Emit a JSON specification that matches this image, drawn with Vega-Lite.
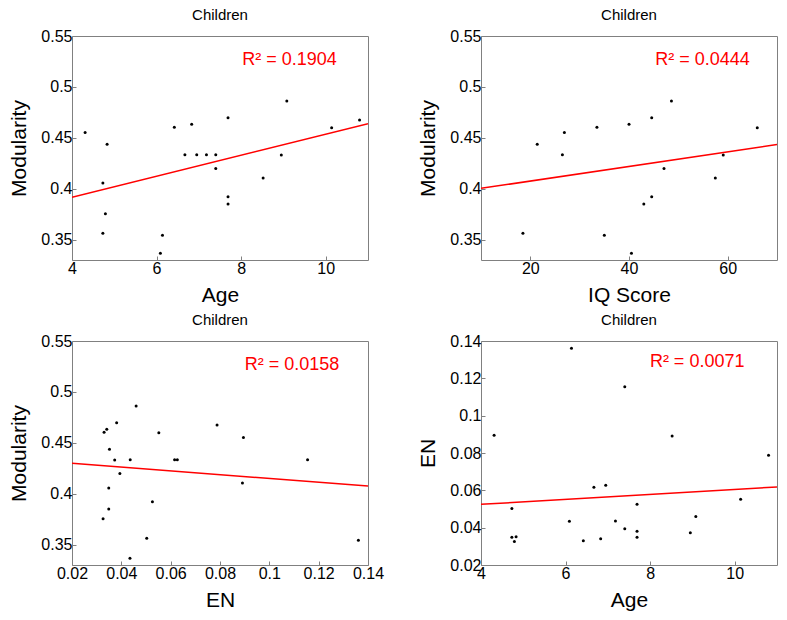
{
  "$schema": "https://vega.github.io/schema/vega-lite/v6.json",
  "autosize": {"type": "none"},
  "padding": {"left": 72, "top": 36, "right": 715, "bottom": 584},
  "background": "white",
  "datasets": {
    "kids": [
      {"age": 4.31, "iq": 26.9, "en": 0.0895, "mod": 0.4552},
      {"age": 4.83, "iq": 21.4, "en": 0.0352, "mod": 0.4436},
      {"age": 4.73, "iq": null, "en": 0.0349, "mod": 0.4057},
      {"age": 4.79, "iq": null, "en": 0.0326, "mod": 0.3754},
      {"age": 4.73, "iq": 18.5, "en": 0.0503, "mod": 0.3562},
      {"age": 6.14, "iq": 35.0, "en": 0.1361, "mod": 0.3542},
      {"age": 6.09, "iq": 40.5, "en": 0.0435, "mod": 0.3367},
      {"age": 6.42, "iq": 33.5, "en": 0.033, "mod": 0.4604},
      {"age": 6.83, "iq": 40.0, "en": 0.0341, "mod": 0.4633},
      {"age": 6.67, "iq": 26.5, "en": 0.0616, "mod": 0.4333},
      {"age": 6.95, "iq": null, "en": 0.0627, "mod": 0.4333},
      {"age": 7.18, "iq": null, "en": 0.0436, "mod": 0.4333},
      {"age": 7.4, "iq": null, "en": 0.1155, "mod": 0.4333},
      {"age": 7.4, "iq": 47.1, "en": 0.0394, "mod": 0.4199},
      {"age": 7.69, "iq": 44.6, "en": 0.0381, "mod": 0.4696},
      {"age": 7.69, "iq": 44.6, "en": 0.0526, "mod": 0.3922},
      {"age": 7.69, "iq": 43.0, "en": 0.0349, "mod": 0.3849},
      {"age": 8.52, "iq": 57.5, "en": 0.0891, "mod": 0.4105},
      {"age": 8.95, "iq": 59.1, "en": 0.0373, "mod": 0.4331},
      {"age": 9.08, "iq": 48.6, "en": 0.046, "mod": 0.4861},
      {"age": 10.14, "iq": 66.0, "en": 0.0552, "mod": 0.4598},
      {"age": 10.8, "iq": null, "en": 0.0788, "mod": 0.4675}
    ]
  },
  "columns": 2,
  "spacing": {"row": 81, "column": 113},
  "bounds": "flush",
  "concat": [
    {
      "title": "Children",
      "width": 296, "height": 224,
      "layer": [
        {
          "data": {"name": "kids"},
          "mark": {"type": "point", "filled": true, "color": "black", "size": 9, "opacity": 1},
          "encoding": {
            "x": {"field": "age", "type": "quantitative", "scale": {"domain": [4, 11], "nice": false, "zero": false}, "axis": {"values": [4, 6, 8, 10], "tickCount": 12, "title": "Age", "labelOverlap": false, "format": "~f"}},
            "y": {"field": "mod", "type": "quantitative", "scale": {"domain": [0.33, 0.55], "nice": false, "zero": false}, "axis": {"values": [0.35, 0.4, 0.45, 0.5, 0.55], "tickCount": 12, "title": "Modularity", "labelOverlap": false, "format": "~f"}}
          }
        },
        {
          "data": {"name": "kids"},
          "transform": [{"regression": "mod", "on": "age", "extent": [4, 11]}],
          "mark": {"type": "line", "color": "red", "strokeWidth": 1.5, "clip": true},
          "encoding": {"x": {"field": "age", "type": "quantitative"}, "y": {"field": "mod", "type": "quantitative"}}
        },
        {
          "data": {"values": [{"t": "R² = 0.1904"}]},
          "mark": {"type": "text", "color": "red", "fontSize": 18, "align": "right", "baseline": "alphabetic"},
          "encoding": {"x": {"datum": 10.26, "type": "quantitative"}, "y": {"datum": 0.5213, "type": "quantitative"}, "text": {"field": "t"}}
        }
      ]
    },
    {
      "title": "Children",
      "width": 296, "height": 224,
      "layer": [
        {
          "data": {"name": "kids"},
          "transform": [{"filter": "datum.iq != null"}],
          "mark": {"type": "point", "filled": true, "color": "black", "size": 9, "opacity": 1},
          "encoding": {
            "x": {"field": "iq", "type": "quantitative", "scale": {"domain": [10, 70], "nice": false, "zero": false}, "axis": {"values": [20, 40, 60], "tickCount": 12, "title": "IQ Score", "labelOverlap": false, "format": "~f"}},
            "y": {"field": "mod", "type": "quantitative", "scale": {"domain": [0.33, 0.55], "nice": false, "zero": false}, "axis": {"values": [0.35, 0.4, 0.45, 0.5, 0.55], "tickCount": 12, "title": "Modularity", "labelOverlap": false, "format": "~f"}}
          }
        },
        {
          "data": {"name": "kids"},
          "transform": [{"filter": "datum.iq != null"}, {"regression": "mod", "on": "iq", "extent": [10, 70]}],
          "mark": {"type": "line", "color": "red", "strokeWidth": 1.5, "clip": true},
          "encoding": {"x": {"field": "iq", "type": "quantitative"}, "y": {"field": "mod", "type": "quantitative"}}
        },
        {
          "data": {"values": [{"t": "R² = 0.0444"}]},
          "mark": {"type": "text", "color": "red", "fontSize": 18, "align": "right", "baseline": "alphabetic"},
          "encoding": {"x": {"datum": 64.5, "type": "quantitative"}, "y": {"datum": 0.5213, "type": "quantitative"}, "text": {"field": "t"}}
        }
      ]
    },
    {
      "title": "Children",
      "width": 296, "height": 224,
      "layer": [
        {
          "data": {"name": "kids"},
          "mark": {"type": "point", "filled": true, "color": "black", "size": 9, "opacity": 1},
          "encoding": {
            "x": {"field": "en", "type": "quantitative", "scale": {"domain": [0.02, 0.14], "nice": false, "zero": false}, "axis": {"values": [0.02, 0.04, 0.06, 0.08, 0.1, 0.12, 0.14], "tickCount": 12, "title": "EN", "labelOverlap": false, "format": "~f"}},
            "y": {"field": "mod", "type": "quantitative", "scale": {"domain": [0.33, 0.55], "nice": false, "zero": false}, "axis": {"values": [0.35, 0.4, 0.45, 0.5, 0.55], "tickCount": 12, "title": "Modularity", "labelOverlap": false, "format": "~f"}}
          }
        },
        {
          "data": {"name": "kids"},
          "transform": [{"regression": "mod", "on": "en", "extent": [0.02, 0.14]}],
          "mark": {"type": "line", "color": "red", "strokeWidth": 1.5, "clip": true},
          "encoding": {"x": {"field": "en", "type": "quantitative"}, "y": {"field": "mod", "type": "quantitative"}}
        },
        {
          "data": {"values": [{"t": "R² = 0.0158"}]},
          "mark": {"type": "text", "color": "red", "fontSize": 18, "align": "right", "baseline": "alphabetic"},
          "encoding": {"x": {"datum": 0.1284, "type": "quantitative"}, "y": {"datum": 0.5213, "type": "quantitative"}, "text": {"field": "t"}}
        }
      ]
    },
    {
      "title": "Children",
      "width": 296, "height": 224,
      "layer": [
        {
          "data": {"name": "kids"},
          "mark": {"type": "point", "filled": true, "color": "black", "size": 9, "opacity": 1},
          "encoding": {
            "x": {"field": "age", "type": "quantitative", "scale": {"domain": [4, 11], "nice": false, "zero": false}, "axis": {"values": [4, 6, 8, 10], "tickCount": 12, "title": "Age", "labelOverlap": false, "format": "~f"}},
            "y": {"field": "en", "type": "quantitative", "scale": {"domain": [0.02, 0.14], "nice": false, "zero": false}, "axis": {"values": [0.02, 0.04, 0.06, 0.08, 0.1, 0.12, 0.14], "tickCount": 12, "title": "EN", "labelOverlap": false, "format": "~f"}}
          }
        },
        {
          "data": {"name": "kids"},
          "transform": [{"regression": "en", "on": "age", "extent": [4, 11]}],
          "mark": {"type": "line", "color": "red", "strokeWidth": 1.5, "clip": true},
          "encoding": {"x": {"field": "age", "type": "quantitative"}, "y": {"field": "en", "type": "quantitative"}}
        },
        {
          "data": {"values": [{"t": "R² = 0.0071"}]},
          "mark": {"type": "text", "color": "red", "fontSize": 18, "align": "right", "baseline": "alphabetic"},
          "encoding": {"x": {"datum": 10.23, "type": "quantitative"}, "y": {"datum": 0.1263, "type": "quantitative"}, "text": {"field": "t"}}
        }
      ]
    }
  ],
  "config": {
    "font": "Liberation Sans",
    "view": {"stroke": "#808080", "strokeWidth": 1},
    "title": {"fontSize": 15, "fontWeight": "normal", "color": "black", "offset": 5, "font": "Liberation Sans"},
    "text": {"font": "Liberation Sans"},
    "axis": {
      "grid": false, "domain": false, "ticks": true, "tickSize": -4, "tickColor": "#808080",
      "labelFont": "Liberation Sans", "labelFontSize": 16, "labelColor": "black", "labelPadding": 4,
      "labelFlush": false, "labelOverlap": false, "labelBound": false,
      "titleFont": "Liberation Sans", "titleFontSize": 21, "titleFontWeight": "normal", "titleColor": "black"
    },
    "axisX": {"titleY": 41, "titleBaseline": "alphabetic"},
    "axisY": {"titleX": -47, "titleBaseline": "alphabetic"}
  }
}
